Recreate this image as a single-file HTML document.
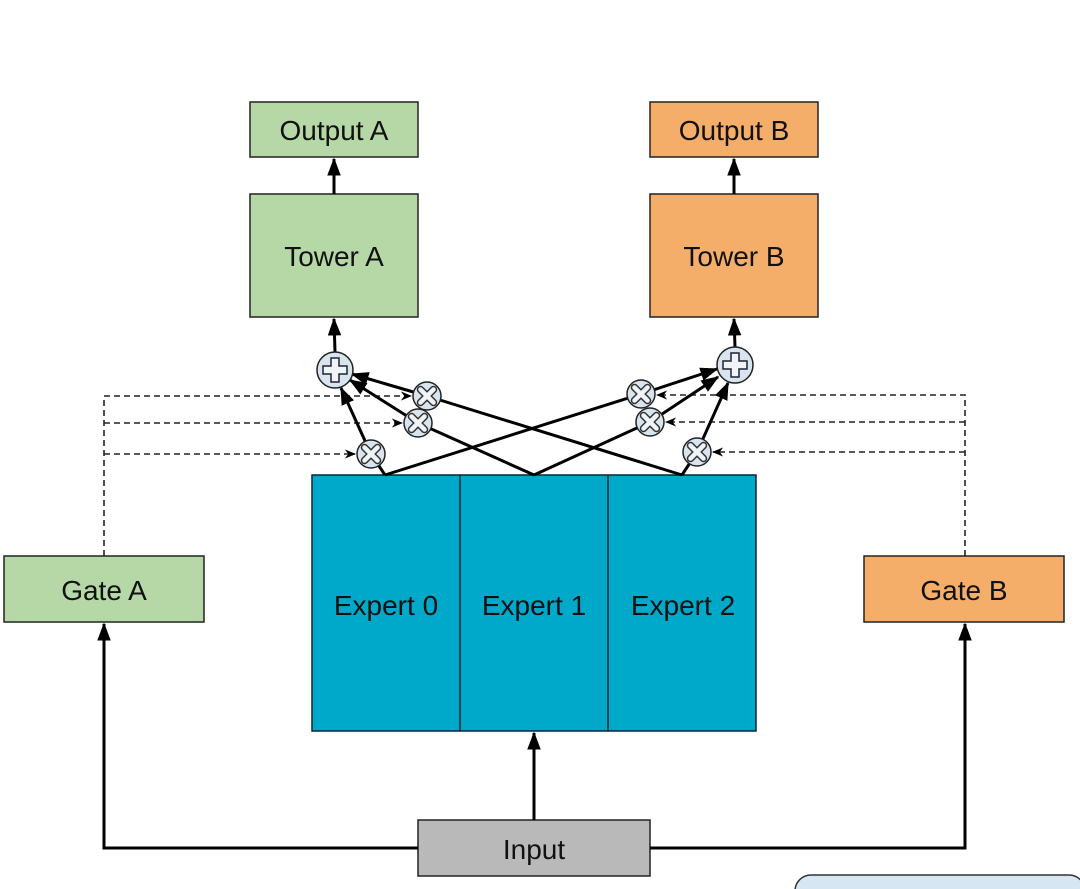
<!DOCTYPE html>
<html><head><meta charset="utf-8"><style>
html,body{margin:0;padding:0;background:#fff;}
svg{display:block;}
text{font-family:"Liberation Sans",sans-serif;font-size:28px;fill:#111;text-anchor:middle;}
</style></head><body>
<svg width="1080" height="889" viewBox="0 0 1080 889" xmlns="http://www.w3.org/2000/svg">
<defs>
<marker id="ar" viewBox="0 0 12 10" refX="11" refY="5" markerWidth="6" markerHeight="5.5" markerUnits="strokeWidth" orient="auto"><path d="M0,0.5 L12,5 L0,9.5 z" fill="#000"/></marker>
<marker id="as" viewBox="0 0 10 10" refX="9" refY="5" markerWidth="7" markerHeight="7" orient="auto"><path d="M0,1 L10,5 L0,9 L3,5 z" fill="#000"/></marker>
<g id="tm"><circle r="14" fill="#d8e4ee" stroke="#222" stroke-width="1.5"/><path d="M-6.5,-6.5L6.5,6.5M6.5,-6.5L-6.5,6.5" stroke="#333" stroke-width="7.5" stroke-linecap="round"/><path d="M-6.5,-6.5L6.5,6.5M6.5,-6.5L-6.5,6.5" stroke="#eef4f8" stroke-width="4.5" stroke-linecap="round"/></g>
<g id="pl"><circle r="18" fill="#d8e4ee" stroke="#222" stroke-width="1.5"/><path d="M-4,-12h8v8h8v8h-8v8h-8v-8h-8v-8h8z" fill="#eef4f8" stroke="#223" stroke-width="1.5"/></g>
</defs>
<rect x="250" y="102" width="168" height="55" fill="#b5d8a6" stroke="#222" stroke-width="1.5"/>
<text x="334" y="140">Output A</text>
<rect x="650" y="102" width="168" height="55" fill="#f5ad6a" stroke="#222" stroke-width="1.5"/>
<text x="734" y="140">Output B</text>
<rect x="250" y="194" width="168" height="123" fill="#b5d8a6" stroke="#222" stroke-width="1.5"/>
<text x="334" y="266">Tower A</text>
<rect x="650" y="194" width="168" height="123" fill="#f5ad6a" stroke="#222" stroke-width="1.5"/>
<text x="734" y="266">Tower B</text>
<rect x="312" y="475" width="444" height="256" fill="#00a9c9" stroke="#123" stroke-width="1.5"/>
<line x1="460" y1="475" x2="460" y2="731" stroke="#123" stroke-width="1.5"/>
<line x1="608" y1="475" x2="608" y2="731" stroke="#123" stroke-width="1.5"/>
<text x="386" y="615">Expert 0</text>
<text x="534" y="615">Expert 1</text>
<text x="683" y="615">Expert 2</text>
<rect x="4" y="556" width="200" height="66" fill="#b5d8a6" stroke="#222" stroke-width="1.5"/>
<text x="104" y="600">Gate A</text>
<rect x="864" y="556" width="200" height="66" fill="#f5ad6a" stroke="#222" stroke-width="1.5"/>
<text x="964" y="600">Gate B</text>
<rect x="418" y="820" width="232" height="56" fill="#b9b9b9" stroke="#222" stroke-width="1.5"/>
<text x="534" y="859">Input</text>
<rect x="795" y="875" width="290" height="40" rx="16" fill="#d6e7f3" stroke="#333" stroke-width="1.5"/>
<g stroke="#000" stroke-width="3" fill="none">
<polyline points="418,848 104,848 104,624" marker-end="url(#ar)"/>
<polyline points="650,848 965,848 965,624" marker-end="url(#ar)"/>
<line x1="534" y1="820" x2="534" y2="733" marker-end="url(#ar)"/>
<line x1="334" y1="194" x2="334" y2="159" marker-end="url(#ar)"/>
<line x1="734" y1="194" x2="734" y2="159" marker-end="url(#ar)"/>
<line x1="335" y1="352" x2="334" y2="319" marker-end="url(#ar)"/>
<line x1="735" y1="347" x2="734" y2="319" marker-end="url(#ar)"/>
</g>
<g stroke="#222" stroke-width="1.6" fill="none" stroke-dasharray="6,4">
<polyline points="104,556 104,396 411,396" marker-end="url(#as)"/>
<line x1="104" y1="423" x2="402" y2="423" marker-end="url(#as)"/>
<line x1="104" y1="454" x2="355" y2="454" marker-end="url(#as)"/>
<polyline points="965,556 965,395 657,395" marker-end="url(#as)"/>
<line x1="965" y1="422" x2="666" y2="422" marker-end="url(#as)"/>
<line x1="965" y1="452" x2="713" y2="452" marker-end="url(#as)"/>
</g>
<g stroke="#000" stroke-width="3" fill="none">
<line x1="385" y1="475" x2="371" y2="454"/>
<line x1="385" y1="475" x2="641" y2="394"/>
<line x1="534" y1="475" x2="418" y2="423"/>
<line x1="534" y1="475" x2="650" y2="422"/>
<line x1="682" y1="475" x2="427" y2="396"/>
<line x1="682" y1="475" x2="697" y2="452"/>
<line x1="371" y1="454" x2="341" y2="388" marker-end="url(#ar)"/>
<line x1="418" y1="423" x2="350" y2="380" marker-end="url(#ar)"/>
<line x1="427" y1="396" x2="352" y2="374" marker-end="url(#ar)"/>
<line x1="641" y1="394" x2="717" y2="369" marker-end="url(#ar)"/>
<line x1="650" y1="422" x2="718" y2="377" marker-end="url(#ar)"/>
<line x1="697" y1="452" x2="728" y2="383" marker-end="url(#ar)"/>
</g>
<use href="#pl" x="335" y="370"/>
<use href="#pl" x="735" y="365"/>
<use href="#tm" x="371" y="454"/>
<use href="#tm" x="418" y="423"/>
<use href="#tm" x="427" y="396"/>
<use href="#tm" x="641" y="394"/>
<use href="#tm" x="650" y="422"/>
<use href="#tm" x="697" y="452"/>
</svg>
</body></html>
